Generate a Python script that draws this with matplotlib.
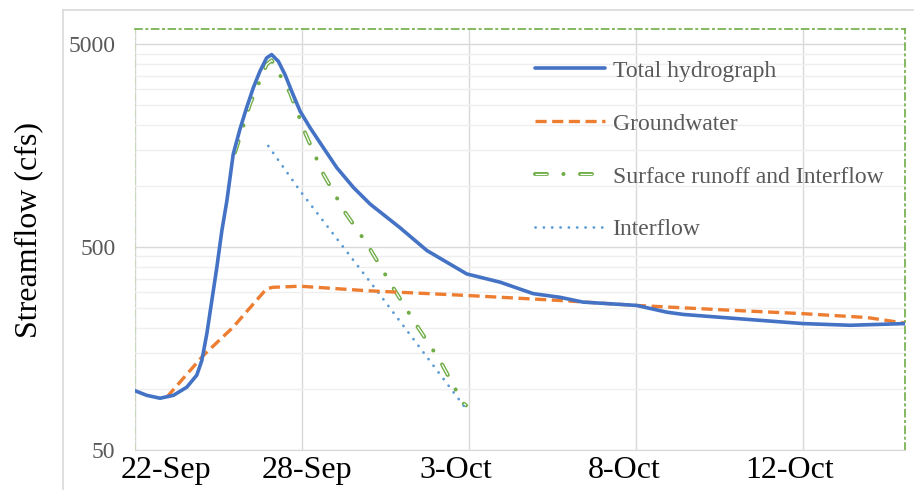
import numpy as np
import matplotlib
matplotlib.use("Agg")
import matplotlib.pyplot as plt
from matplotlib.lines import Line2D
from matplotlib.legend_handler import HandlerTuple
from matplotlib.ticker import FixedLocator, NullFormatter, FixedFormatter

# position along the (category) time axis, one grid step = 5 units
tick_labels = ["22-Sep", "28-Sep", "3-Oct", "8-Oct", "12-Oct"]
label_pos = [0.93, 5.15, 9.61, 14.64, 19.61]
grid_pos = [0, 5, 10, 15, 20]

total_x = [0, 0.35, 0.75, 1.15, 1.55, 1.85, 2.0, 2.15, 2.3, 2.45, 2.6, 2.75, 2.94,
           3.14, 3.34, 3.54, 3.74, 3.94, 4.09, 4.29, 4.49, 4.69, 4.94, 5.24, 5.64,
           6.04, 6.54, 7.04, 7.93, 8.74, 9.93, 10.93, 11.92, 12.72, 13.41, 15.02,
           15.92, 16.41, 17.9, 20.0, 21.41, 23.05]
total_q = [98, 93, 90, 93, 102, 117, 138, 187, 273, 398, 603, 846, 1436,
           1905, 2432, 3050, 3684, 4285, 4450, 4124, 3548, 2938, 2344, 1941, 1545,
           1233, 984, 815, 624, 481, 369, 336, 295, 283, 268, 258,
           239, 233, 223, 210, 206, 210]

gw_x = [0.95, 2.04, 2.93, 3.94, 4.13, 4.94, 6.94, 9.93, 12.72, 15.02, 17.9, 20.0, 21.91, 23.05]
gw_q = [91, 146, 201, 312, 317, 321, 305, 289, 273, 258, 244, 235, 225, 211]

sro_x = [2.99, 3.04, 3.44, 3.94, 4.09, 4.64, 5.09, 5.64, 6.29, 6.94, 7.72, 8.43, 9.13, 9.82, 9.91]
sro_q = [1462, 1546, 2529, 3975, 4170, 2884, 1833, 1145, 741, 520, 317, 206, 138, 85, 83]

inter_x = [3.99, 4.94, 7.24, 9.93]
inter_q = [1577, 948, 305, 79]

plt.rcParams['font.family'] = ['Liberation Serif', 'DejaVu Serif']
plt.rcParams['lines.scale_dashes'] = False

fig = plt.figure(figsize=(9.14, 4.9), dpi=100)
ax = fig.add_axes([135 / 914, 1 - 450 / 490, 770 / 914, 421 / 490])

green = "#70AD47"
grey_txt = "#595959"

l_total, = ax.plot(total_x, total_q, color="#4472C4", lw=2.6, solid_joinstyle="round",
                   solid_capstyle="round", zorder=5)
l_gw, = ax.plot(gw_x, gw_q, color="#ED7D31", lw=2.4, linestyle=(0, (8.0, 4.0)), zorder=4)
# compound (double) dash-dot line: green dash + dot, white core over the dashes only
l_sro_out, = ax.plot(sro_x, sro_q, color=green, lw=2.9, linestyle=(0, (8.6, 11.85, 0.1, 11.85)),
                     dash_capstyle="round", zorder=3)
l_sro_in, = ax.plot(sro_x, sro_q, color="white", lw=0.9, linestyle=(0, (8.6, 23.8)),
                    dash_capstyle="butt", zorder=3.1)
l_int, = ax.plot(inter_x, inter_q, color="#5B9BD5", lw=2.0, linestyle=(0, (0.1, 5.9)),
                 dash_capstyle="round", zorder=3)

ax.set_yscale("log")
ax.set_ylim(50, 5950)
ax.set_xlim(0, 23.05)

ax.yaxis.set_major_locator(FixedLocator([50, 500, 5000]))
ax.yaxis.set_major_formatter(FixedFormatter(["50", "500", "5000"]))
minor_y = list(range(100, 500, 50)) + list(range(1000, 5000, 500))
ax.yaxis.set_minor_locator(FixedLocator(minor_y))
ax.yaxis.set_minor_formatter(NullFormatter())

ax.set_xticks(label_pos)
ax.set_xticklabels(tick_labels)
ax.xaxis.set_minor_locator(FixedLocator(grid_pos))

ax.grid(which="major", axis="y", color="#d9d9d9", lw=1.0)
ax.grid(which="minor", axis="y", color="#efefef", lw=1.0)
ax.grid(which="minor", axis="x", color="#d9d9d9", lw=1.0)
ax.set_axisbelow(True)

ax.tick_params(which="both", length=0)
ax.tick_params(axis="y", labelsize=17, labelcolor=grey_txt, pad=14)
ax.tick_params(axis="x", labelsize=23, labelcolor="black", pad=4)

for side in ["top", "right"]:
    ax.spines[side].set_color(green)
    ax.spines[side].set_linestyle((0, (5, 3, 1, 3)))
    ax.spines[side].set_linewidth(1.2)
ax.spines["left"].set_color("#c9d8bd")
ax.spines["left"].set_linestyle((0, (5, 3, 1, 3)))
ax.spines["bottom"].set_color("#d9d9d9")

ax.set_ylabel("Streamflow (cfs)", fontsize=23, color="black")
ax.yaxis.set_label_coords(-0.119, 0.523)

ax.legend([l_total, l_gw, (l_sro_out, l_sro_in), l_int],
          ["Total hydrograph", "Groundwater", "Surface runoff and Interflow", "Interflow"],
          handler_map={tuple: HandlerTuple(ndivide=1, pad=0)},
          loc="upper left", bbox_to_anchor=(0.519, 0.926), frameon=False,
          fontsize=17, labelcolor=grey_txt, handlelength=2.96, handletextpad=0.34,
          labelspacing=1.33, borderpad=0, borderaxespad=0)

# outer chart border
fig.add_artist(Line2D([63 / 914, 63 / 914], [0, 1 - 10 / 490], color="#d9d9d9", lw=1.2))
fig.add_artist(Line2D([63 / 914, 1], [1 - 10 / 490, 1 - 10 / 490], color="#d9d9d9", lw=1.2))

fig.savefig("out.png", dpi=100)
